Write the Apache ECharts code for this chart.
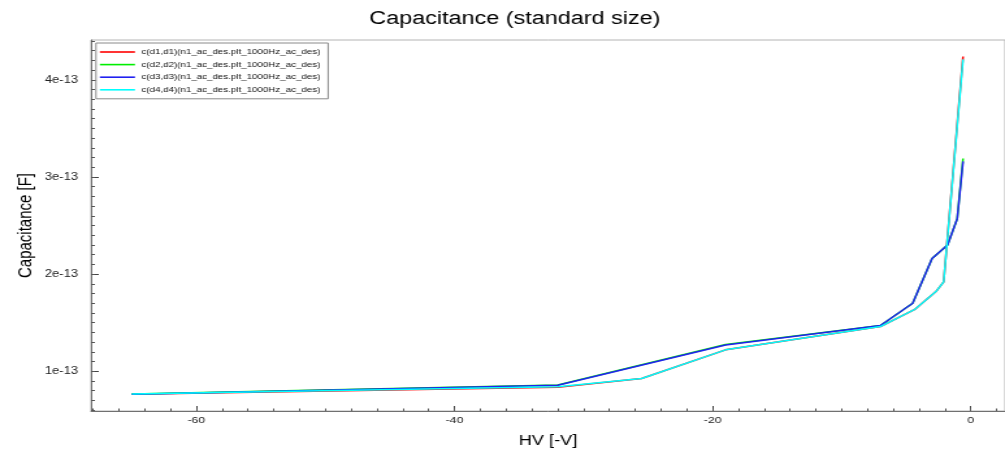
<!DOCTYPE html>
<html>
<head>
<meta charset="utf-8">
<script src="https://cdn.jsdelivr.net/npm/echarts@6/dist/echarts.min.js"></script>
<style>
  html, body { margin: 0; padding: 0; background: #fff; overflow: hidden; }
  /* the plot is laid out on a narrower canvas and widened to the page */
  #chart { width: 773px; height: 453px; transform: scaleX(1.3001); transform-origin: 0 0; }
</style>
</head>
<body>
<div id="chart"></div>
<script>
// Bias sweep points (V) and capacitance in units of 1e-13 F
const voltsD1D4 = [-65, -32, -25.5, -19, -7, -4.3, -2.7, -2.1, -0.6];
const capD1 = [0.763, 0.835, 0.925, 1.22, 1.46, 1.64, 1.82, 1.92, 4.24];
const capD4 = [0.765, 0.84, 0.925, 1.22, 1.46, 1.64, 1.82, 1.92, 4.21];

const voltsD2D3 = [-65, -32, -19, -7, -4.5, -3.0, -1.8, -1.05, -0.6];
const capD2 = [0.765, 0.857, 1.275, 1.47, 1.70, 2.16, 2.30, 2.57, 3.19];
const capD3 = [0.763, 0.855, 1.27, 1.47, 1.70, 2.16, 2.30, 2.57, 3.16];

const seriesNames = [
  'c(d1,d1)(n1_ac_des.plt_1000Hz_ac_des)',
  'c(d2,d2)(n1_ac_des.plt_1000Hz_ac_des)',
  'c(d3,d3)(n1_ac_des.plt_1000Hz_ac_des)',
  'c(d4,d4)(n1_ac_des.plt_1000Hz_ac_des)'
];
const seriesColors = ['#ff0000', '#00ee00', '#2020f0', '#00ffff'];

const xMajorTicks = [-60, -40, -20, 0];
const yMajorTicks = [1, 2, 3, 4];
const xRange = [-68.16, 2.65];
const yRange = [0.59, 4.41];

// minor tick positions: every 2 V and every 0.1e-13 F
const xMinorTicks = [];
for (let v = -68; v <= 2; v += 2) xMinorTicks.push(v);
const yMinorTicks = [];
for (let i = 6; i <= 44; i++) yMinorTicks.push(i / 10);

const FONT = 'Liberation Sans';
const pairs = (xs, ys) => xs.map((x, i) => [x, ys[i]]);

const chart = echarts.init(document.getElementById('chart'), null, { renderer: 'canvas' });

const axisGray = '#707070';

chart.setOption({
  backgroundColor: '#ffffff',
  animation: false,
  title: {
    text: 'Capacitance (standard size)',
    left: 279,
    top: 5,
    textStyle: { fontFamily: FONT, fontSize: 18, fontWeight: 'normal', color: '#000' }
  },
  legend: {
    orient: 'vertical',
    left: 73.8,
    top: 43,
    padding: [5, 6, 5, 3],
    icon: 'rect',
    itemWidth: 27,
    itemHeight: 1.6,
    itemGap: 4.6,
    borderColor: '#8a8a8a',
    borderWidth: 1,
    backgroundColor: '#fff',
    textStyle: { fontFamily: FONT, fontSize: 7.5, lineHeight: 8, color: '#111' },
    data: seriesNames
  },
  grid: {
    left: 70, right: -1, top: 40, bottom: 41.3,
    show: true, borderColor: '#b4b4b4', borderWidth: 1, backgroundColor: 'transparent'
  },
  xAxis: [
    {
      type: 'value', min: xRange[0], max: xRange[1],
      name: 'HV [-V]', nameLocation: 'middle', nameGap: 23, nameMoveOverlap: false,
      nameTextStyle: { fontFamily: FONT, fontSize: 14, color: '#000' },
      axisLine: { show: true, onZero: false, lineStyle: { color: axisGray, width: 1 } },
      axisTick: { show: true, inside: true, length: 5, customValues: xMajorTicks, lineStyle: { color: '#444' } },
      axisLabel: { customValues: xMajorTicks, margin: 4, fontFamily: FONT, fontSize: 9.5, color: '#222' },
      splitLine: { show: false }
    },
    {
      type: 'value', min: xRange[0], max: xRange[1], position: 'bottom',
      axisLine: { show: false, onZero: false },
      axisTick: { show: true, inside: true, length: 2.5, customValues: xMinorTicks, lineStyle: { color: '#555' } },
      axisLabel: { show: false },
      splitLine: { show: false }
    }
  ],
  yAxis: [
    {
      type: 'value', min: yRange[0], max: yRange[1],
      name: 'Capacitance [F]', nameLocation: 'middle', nameGap: 43, nameRotate: 90, nameMoveOverlap: false,
      nameTextStyle: { fontFamily: FONT, fontSize: 15, color: '#000' },
      axisLine: { show: true, onZero: false, lineStyle: { color: axisGray, width: 1 } },
      axisTick: { show: true, inside: true, length: 6, customValues: yMajorTicks, lineStyle: { color: '#444' } },
      axisLabel: {
        customValues: yMajorTicks, margin: 10, fontFamily: FONT, fontSize: 10, color: '#222',
        formatter: v => v + 'e-13'
      },
      splitLine: { show: false }
    },
    {
      type: 'value', min: yRange[0], max: yRange[1], position: 'left',
      axisLine: { show: false, onZero: false },
      axisTick: { show: true, inside: true, length: 3, customValues: yMinorTicks, lineStyle: { color: '#555' } },
      axisLabel: { show: false },
      splitLine: { show: false }
    }
  ],
  series: [
    { name: seriesNames[0], type: 'line', data: pairs(voltsD1D4, capD1), color: seriesColors[0] },
    { name: seriesNames[1], type: 'line', data: pairs(voltsD2D3, capD2), color: seriesColors[1] },
    { name: seriesNames[2], type: 'line', data: pairs(voltsD2D3, capD3), color: seriesColors[2] },
    { name: seriesNames[3], type: 'line', data: pairs(voltsD1D4, capD4), color: seriesColors[3] }
  ].map(s => Object.assign(s, {
    xAxisIndex: 0, yAxisIndex: 0,
    symbol: 'none', smooth: false,
    lineStyle: { width: 1.5, color: s.color },
    itemStyle: { color: s.color }
  }))
});
</script>
</body>
</html>
